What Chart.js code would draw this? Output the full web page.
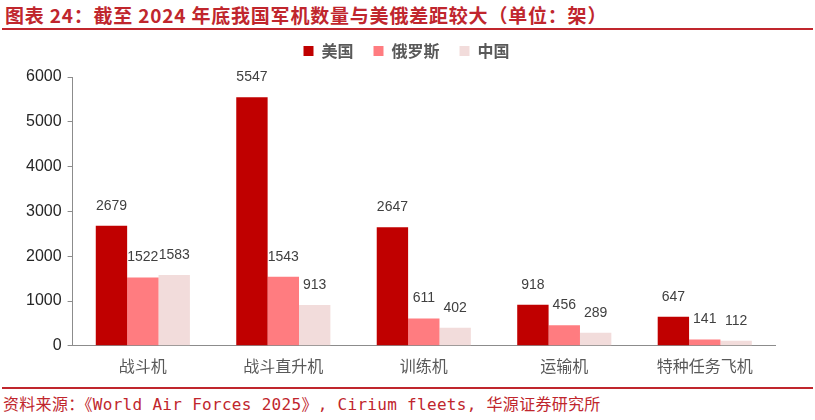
<!DOCTYPE html>
<html><head><meta charset="utf-8">
<script src="https://cdn.jsdelivr.net/npm/chart.js@4/dist/chart.umd.min.js"></script>
<style>
html,body{margin:0;padding:0;background:#fff;width:815px;height:420px;overflow:hidden;}
#title{position:absolute;left:5px;top:3px;font-family:"Noto Sans CJK SC",sans-serif;font-weight:bold;font-size:19px;letter-spacing:0.8px;color:#C0262D;white-space:nowrap;line-height:24px;}
#line1{position:absolute;left:2px;top:28px;width:811px;height:2px;background:#C0262D;}
#line2{position:absolute;left:2px;top:387px;width:811px;height:2px;background:#C0262D;}
#source{position:absolute;left:3px;top:394px;font-family:"DejaVu Sans Mono","Noto Sans CJK SC",monospace;font-size:16px;letter-spacing:0.3px;color:#C0262D;white-space:nowrap;line-height:22px;}
#wrap{position:absolute;left:0;top:23px;width:815px;height:356px;}
</style></head>
<body>
<div id="title">图表 24：截至 2024 年底我国军机数量与美俄差距较大（单位：架）</div>
<div id="line1"></div>
<div id="wrap"><canvas id="c"></canvas></div>
<div id="line2"></div>
<div id="source">资料来源：《World Air Forces 2025》, Cirium fleets, 华源证券研究所</div>
<script>
const categories = ["战斗机", "战斗直升机", "训练机", "运输机", "特种任务飞机"];
const usValues = [2679, 5547, 2647, 918, 647];
const russiaValues = [1522, 1543, 611, 456, 141];
const chinaValues = [1583, 913, 402, 289, 112];
const seriesNames = ["美国", "俄罗斯", "中国"];
const yTicks = [0, 1000, 2000, 3000, 4000, 5000, 6000];

const labelPlugin = {
  id: 'valueLabels',
  afterDatasetsDraw(chart) {
    const ctx = chart.ctx;
    ctx.save();
    ctx.font = '14px "Liberation Sans", Arial, sans-serif';
    ctx.fillStyle = '#404040';
    ctx.textAlign = 'center';
    ctx.textBaseline = 'middle';
    chart.data.datasets.forEach((ds, i) => {
      const meta = chart.getDatasetMeta(i);
      meta.data.forEach((el, j) => {
        ctx.fillText(String(ds.data[j]), el.x, el.y - 20);
      });
    });
    ctx.restore();
  }
};

const legendMargin = {
  id: 'legendMargin',
  beforeInit(chart) {
    const fit = chart.legend.fit;
    chart.legend.fit = function () { fit.call(this); this.height += 8; };
  },
  afterLayout(chart) {
    chart.legend.left += 9;
    chart.legend.right += 9;
  }
};

new Chart(document.getElementById('c'), {
  type: 'bar',
  data: {
    labels: categories,
    datasets: [
      {label: seriesNames[0], data: usValues, backgroundColor: '#C00000'},
      {label: seriesNames[1], data: russiaValues, backgroundColor: '#FF7C80'},
      {label: seriesNames[2], data: chinaValues, backgroundColor: '#F2DCDB'}
    ]
  },
  options: {
    responsive: true,
    maintainAspectRatio: false,
    animation: false,
    layout: {padding: {left: 20, right: 40, top: 0, bottom: 0}},
    datasets: {bar: {categoryPercentage: 0.67, barPercentage: 1.0}},
    plugins: {
      legend: {
        position: 'top',
        labels: {
          boxWidth: 10, boxHeight: 10, padding: 20,
          color: '#595959',
          font: {family: '"Noto Sans CJK SC", sans-serif', size: 16, weight: 'bold'}
        }
      },
      tooltip: {enabled: false}
    },
    scales: {
      y: {
        min: 0, max: 6000,
        afterBuildTicks(axis) { axis.ticks = yTicks.map(v => ({value: v})); },
        border: {display: true, color: '#8C8C8C', width: 1},
        grid: {display: true, drawOnChartArea: false, drawTicks: true, tickLength: 5, color: '#8C8C8C'},
        ticks: {color: '#262626', padding: 6, callback: v => String(v), font: {family: '"Liberation Sans", Arial, sans-serif', size: 16}}
      },
      x: {
        border: {display: true, color: '#8C8C8C', width: 1},
        grid: {display: false},
        ticks: {color: '#595959', padding: 3, font: {family: '"Noto Sans CJK SC", sans-serif', size: 16}}
      }
    }
  },
  plugins: [labelPlugin, legendMargin]
});
</script>
</body></html>
